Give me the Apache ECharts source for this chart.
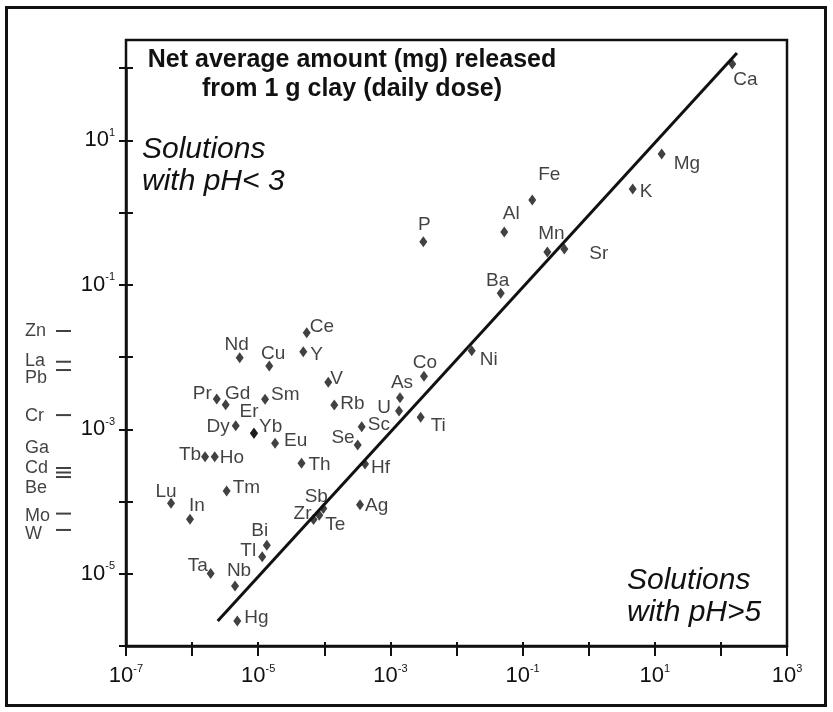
<!DOCTYPE html>
<html><head><meta charset="utf-8">
<script src="https://cdn.jsdelivr.net/npm/echarts@6/dist/echarts.min.js"></script>
<style>html,body{margin:0;padding:0;background:#fff}#c{width:833px;height:712px}</style>
</head><body><div id="c"></div>
<script>
// ---- data ----
const elements = ['Ca','Mg','K','Fe','Al','P','Mn','Sr','Ba','Ni','Co','As','U','Ti','Sc','Se','Hf','Ag','Rb','V','Th','Eu','Ce','Y','Cu','Nd','Sm','Pr','Gd','Dy','Er','Yb','Tb','Ho','Tm','Lu','In','Bi','Tl','Ta','Nb','Hg','Zr','Te','Sb'];
const xValues = [148.6,12.7,4.63,0.140,0.0528,0.00315,0.237,0.428,0.0467,0.0170,0.00322,0.001396,0.001349,0.00287,3.68e-4,3.20e-4,4.13e-4,3.47e-4,1.416e-4,1.148e-4,4.52e-5,1.80e-5,5.42e-5,4.81e-5,1.47e-5,5.25e-6,1.27e-5,2.36e-6,3.22e-6,4.57e-6,8.63e-6,8.63e-6,1.57e-6,2.20e-6,3.33e-6,4.80e-7,9.29e-7,1.35e-5,1.15e-5,1.91e-6,4.46e-6,4.83e-6,6.87e-5,8.39e-5,9.66e-5];
const yValues = [113.5,6.46,2.11,1.49,0.537,0.394,0.284,0.313,0.0762,0.01222,0.00541,0.002735,0.00179,0.001462,0.001084,6.05e-4,3.30e-4,9.04e-5,0.00217,0.00447,3.38e-4,6.40e-4,0.0217,0.01183,0.0075,0.00977,0.0026,0.00262,0.00219,0.00112,8.79e-4,8.79e-4,4.17e-4,4.17e-4,1.40e-4,9.44e-5,5.68e-5,2.48e-5,1.72e-5,1.01e-5,6.76e-6,2.22e-6,5.64e-5,6.44e-5,8.0e-5];
const lineX = [2.44e-6, 175];
const lineY = [2.22e-6, 161];
const acidElements = ['Zn','La','Pb','Cr','Ga','Cd','Be','Mo','W'];
const acidValues = [0.0229,0.0086,0.0066,0.00157,2.91e-4,2.52e-4,2.18e-4,6.8e-5,4.04e-5];
const xLabelExps = [-7,-5,-3,-1,1,3];
const yLabelExps = [1,-1,-3,-5];
const titleLines = ['Net average amount (mg) released','from 1 g clay (daily dose)'];
const noteAcid = ['Solutions','with pH< 3'];
const noteNeutral = ['Solutions','with pH>5'];

// ---- label placement (style only) ----
const labelPlace = {
 Ca:['left',1,15], Mg:['left',12,9], K:['left',7,2], Fe:['center',17,-26], Al:['center',7,-19], P:['center',1,-18],
 Mn:['center',4,-19], Sr:['left',25,4], Ba:['center',-3,-14], Ni:['left',8,8], Co:['center',1,-15], As:['center',2,-16],
 U:['center',-15,-4], Ti:['left',10,7], Sc:['left',6,-3], Se:['right',-3,-8], Hf:['left',6,3], Ag:['left',5,0],
 Rb:['left',6,-2], V:['left',2,-4], Th:['left',7,0], Eu:['left',9,-3], Ce:['left',3,-7], Y:['left',7,2],
 Cu:['center',4,-13], Nd:['center',-3,-14], Sm:['left',6,-6], Pr:['right',-5,-6], Gd:['center',12,-12], Dy:['right',-6,0],
 Er:['center',-5,-23], Yb:['left',5,-8], Tb:['right',-4,-3], Ho:['left',5,0], Tm:['left',6,-4], Lu:['center',-5,-13],
 In:['center',7,-14], Bi:['center',-7,-15], Tl:['center',-14,-7], Ta:['center',-13,-9], Nb:['center',4,-16], Hg:['left',7,-4],
 Zr:['center',-11,-7], Te:['left',6,8], Sb:['center',-7,-13]
};
const acidLabelDy = {Zn:-1, La:-2, Pb:7, Cr:0, Ga:-21, Cd:-5, Be:10, Mo:1, W:3};

const FONT = '"Liberation Sans", Arial, Helvetica, sans-serif';
const INK = '#111111';

const chart = echarts.init(document.getElementById('c'), null, {renderer: 'canvas'});

const supRich = {
  b: {fontSize: 22, lineHeight: 26, fontFamily: FONT, color: INK},
  s: {fontSize: 11, lineHeight: 12, verticalAlign: 'top', fontFamily: FONT, color: INK}
};
function expOf(v) { return Math.round(Math.log10(v)); }

const logCommonX = {type: 'log', logBase: 10, min: 1e-7, max: 1e3, interval: 1, splitLine: {show: false}, minorTick: {show: false}};
const logCommonY = {type: 'log', logBase: 10, min: 1e-6, max: 1e2, interval: 1, splitLine: {show: false}, minorTick: {show: false}};
const hiddenVal = {type: 'value', show: false, min: 0, max: 1};

const scatterData = elements.map((name, i) => {
  const p = labelPlace[name] || ['left', 6, 0];
  return {name: name, value: [xValues[i], yValues[i]], label: {align: p[0], offset: [p[1], p[2] + 1]}};
});
const acidData = acidElements.map((name, i) => ({
  name: name, value: [0.5, acidValues[i]], label: {offset: [-38.5, (acidLabelDy[name] || 0) + 1]}
}));

const gridMain = {left: 126, right: 46, top: 68, bottom: 66};

const option = {
  backgroundColor: '#ffffff',
  animation: false,
  grid: [
    Object.assign({show: false}, gridMain),
    Object.assign({show: false}, gridMain),
    {left: 126, right: 46, top: 40, bottom: 66, show: true, borderColor: INK, borderWidth: 2.5, backgroundColor: 'transparent'},
    {left: 50, width: 27, top: 68, bottom: 66, show: false},
    {left: 6.5, right: 7.5, top: 7.5, bottom: 6.5, show: true, borderColor: INK, borderWidth: 3, backgroundColor: 'transparent'}
  ],
  xAxis: [
    Object.assign({}, logCommonX, {gridIndex: 0, position: 'bottom',
      axisLine: {show: true, lineStyle: {color: INK, width: 2.5}},
      axisTick: {show: true, inside: false, length: 10, lineStyle: {color: INK, width: 2}},
      axisLabel: {show: true, margin: 17, formatter: v => { const e = expOf(v); return xLabelExps.includes(e) ? '{b|10}{s|' + e + '}' : ''; }, rich: supRich}
    }),
    Object.assign({}, logCommonX, {gridIndex: 1, position: 'bottom',
      axisLine: {show: false}, axisLabel: {show: false},
      axisTick: {show: true, inside: true, length: 4, lineStyle: {color: INK, width: 2}}
    }),
    Object.assign({}, hiddenVal, {gridIndex: 2}),
    Object.assign({}, hiddenVal, {gridIndex: 3}),
    Object.assign({}, hiddenVal, {gridIndex: 4})
  ],
  yAxis: [
    Object.assign({}, logCommonY, {gridIndex: 0, position: 'left',
      axisLine: {show: true, lineStyle: {color: INK, width: 2.5}},
      axisTick: {show: true, inside: false, length: 7, lineStyle: {color: INK, width: 2}},
      axisLabel: {show: true, margin: 11, formatter: v => { const e = expOf(v); return yLabelExps.includes(e) ? '{b|10}{s|' + e + '}' : ''; }, rich: supRich}
    }),
    Object.assign({}, logCommonY, {gridIndex: 1, position: 'left',
      axisLine: {show: false}, axisLabel: {show: false},
      axisTick: {show: true, inside: true, length: 7, lineStyle: {color: INK, width: 2}}
    }),
    Object.assign({}, hiddenVal, {gridIndex: 2}),
    Object.assign({}, logCommonY, {gridIndex: 3, show: false}),
    Object.assign({}, hiddenVal, {gridIndex: 4})
  ],
  series: [
    {
      type: 'line', xAxisIndex: 0, yAxisIndex: 0, clip: false,
      data: lineX.map((x, i) => [x, lineY[i]]),
      symbol: 'none', lineStyle: {color: INK, width: 3}, z: 3
    },
    {
      type: 'scatter', xAxisIndex: 0, yAxisIndex: 0, clip: false,
      data: scatterData,
      symbol: 'diamond', symbolSize: [8, 11],
      itemStyle: {color: INK},
      label: {show: true, position: 'inside', formatter: '{b}', verticalAlign: 'middle',
        fontSize: 19, fontFamily: FONT, color: INK},
      emphasis: {disabled: true}, z: 4
    },
    {
      type: 'scatter', xAxisIndex: 3, yAxisIndex: 3, clip: false,
      data: acidData,
      symbol: 'rect', symbolSize: [15, 2],
      itemStyle: {color: INK},
      label: {show: true, position: 'inside', align: 'left', verticalAlign: 'middle', formatter: '{b}',
        fontSize: 18, fontFamily: FONT, color: INK},
      emphasis: {disabled: true}
    }
  ],
  graphic: [
    {type: 'text', x: 352, y: 60, style: {text: titleLines[0], fontFamily: FONT, fontSize: 25, fontWeight: 'bold', fill: INK, align: 'center', verticalAlign: 'middle'}},
    {type: 'text', x: 352, y: 89, style: {text: titleLines[1], fontFamily: FONT, fontSize: 25, fontWeight: 'bold', fill: INK, align: 'center', verticalAlign: 'middle'}},
    {type: 'text', x: 142, y: 150, style: {text: noteAcid[0], fontFamily: FONT, fontSize: 30, fontStyle: 'italic', fill: INK, align: 'left', verticalAlign: 'middle'}},
    {type: 'text', x: 142, y: 182, style: {text: noteAcid[1], fontFamily: FONT, fontSize: 30, fontStyle: 'italic', fill: INK, align: 'left', verticalAlign: 'middle'}},
    {type: 'text', x: 627, y: 581, style: {text: noteNeutral[0], fontFamily: FONT, fontSize: 30, fontStyle: 'italic', fill: INK, align: 'left', verticalAlign: 'middle'}},
    {type: 'text', x: 627, y: 613, style: {text: noteNeutral[1], fontFamily: FONT, fontSize: 30, fontStyle: 'italic', fill: INK, align: 'left', verticalAlign: 'middle'}}
  ]
};
chart.setOption(option);
</script>
</body></html>
